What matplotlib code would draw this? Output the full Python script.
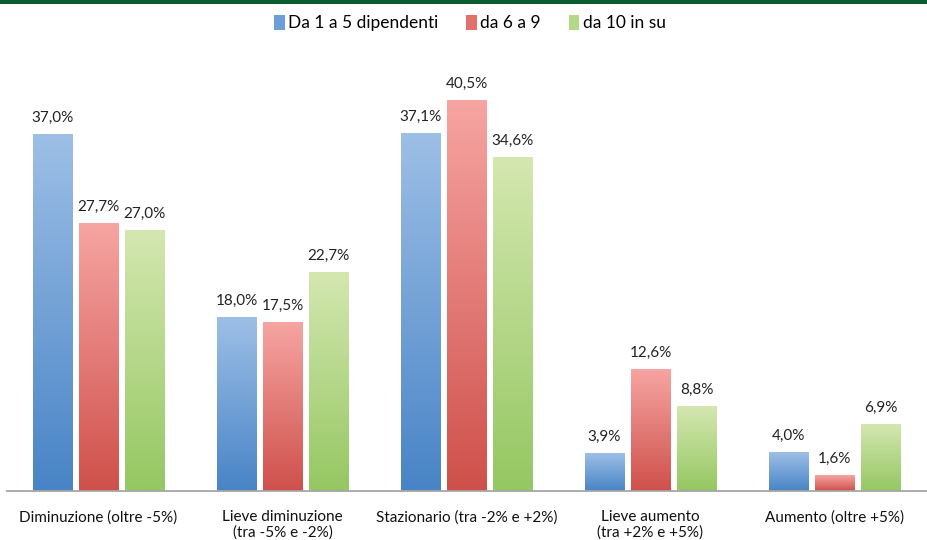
import numpy as np
import matplotlib
matplotlib.use("Agg")
import matplotlib.pyplot as plt
from matplotlib.colors import LinearSegmentedColormap
from matplotlib.patches import Patch

categories = ["Diminuzione (oltre -5%)", "Lieve diminuzione\n(tra -5% e -2%)",
              "Stazionario (tra -2% e +2%)", "Lieve aumento\n(tra +2% e +5%)",
              "Aumento (oltre +5%)"]
series_names = ["Da 1 a 5 dipendenti", "da 6 a 9", "da 10 in su"]
small = [37.0, 18.0, 37.1, 3.9, 4.0]
medium = [27.7, 17.5, 40.5, 12.6, 1.6]
large = [27.0, 22.7, 34.6, 8.8, 6.9]
series = [small, medium, large]

# (top colour, bottom colour) for each gradient fill
grads = [("#9dbfe6", "#4884c6"), ("#f6a5a2", "#cf504b"), ("#d4e7b0", "#95c762")]
legend_cols = ["#6a9fd8", "#e2716d", "#b3d888"]

plt.rcParams['font.family'] = ['Lato', 'DejaVu Sans']

fig = plt.figure(figsize=(9.27, 5.4), dpi=100)
ax = fig.add_axes([6.5 / 927, 49 / 540, 920 / 927, 434 / 540])

x = np.arange(len(categories))
width = 0.212
step = 0.25
grad = np.linspace(0, 1, 256).reshape(-1, 1)

for i, vals in enumerate(series):
    cmap = LinearSegmentedColormap.from_list("g%d" % i, [grads[i][1], grads[i][0]])
    offs = (i - 1) * step
    bars = ax.bar(x + offs, vals, width, color="none", edgecolor="none", zorder=2)
    for b, v in zip(bars, vals):
        x0 = b.get_x()
        # soft shadow on the right edge
        ax.add_patch(plt.Rectangle((x0 + 0.006, 0), width, v, color="#000000",
                                   alpha=0.08, lw=0, zorder=1))
        ax.imshow(grad, cmap=cmap, aspect="auto", origin="lower",
                  extent=(x0, x0 + width, 0, v), zorder=2)
        ax.text(x0 + width / 2, v + 1.0, f"{v:.1f}%".replace(".", ","),
                ha="center", va="bottom", fontsize=11, color="#222222")

ax.set_xlim(-0.5, len(categories) - 0.5)
ax.set_ylim(0, 45)
ax.set_yticks([])
ax.set_xticks(x)
ax.set_xticklabels(categories, fontsize=11, color="#111111", linespacing=1.05)
ax.tick_params(axis="x", length=0, pad=14)
for s in ["top", "right", "left"]:
    ax.spines[s].set_visible(False)
ax.spines["bottom"].set_color("#a6a6a6")
ax.spines["bottom"].set_linewidth(1.3)

handles = [Patch(facecolor=c, edgecolor="none") for c in legend_cols]
fig.legend(handles, series_names, loc="center", bbox_to_anchor=(470 / 927, 1 - 23 / 540),
           ncol=3, frameon=False, fontsize=12.5, handlelength=0.6, handleheight=1.0,
           handletextpad=0.2, columnspacing=1.6)

# dark green band along the top edge
fig.add_artist(plt.Rectangle((0, 1 - 4 / 540), 1, 4 / 540, transform=fig.transFigure,
                             color="#0c5c32", lw=0))

fig.savefig("out.png", dpi=100)
